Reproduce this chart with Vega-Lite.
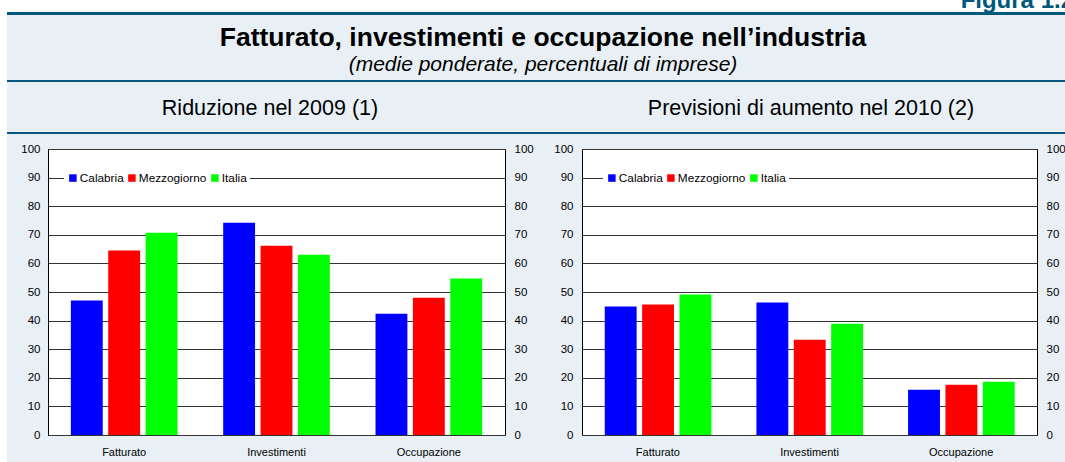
{
  "$schema": "https://vega.github.io/schema/vega-lite/v6.json",
  "background": "#e8f0f6",
  "padding": 0,
  "config": {
    "font": "Liberation Sans",
    "view": {"stroke": null},
    "axis": {"labelFont": "Liberation Sans", "labelColor": "black", "labelFontSize": 11.5}
  },
  "datasets": {
    "none": [],
    "fig": [{"t": "Figura 1.2"}],
    "rid": [
      {"cat": "Fatturato", "serie": "Calabria", "v": 47.0},
      {"cat": "Fatturato", "serie": "Mezzogiorno", "v": 64.5},
      {"cat": "Fatturato", "serie": "Italia", "v": 70.7},
      {"cat": "Investimenti", "serie": "Calabria", "v": 74.2},
      {"cat": "Investimenti", "serie": "Mezzogiorno", "v": 66.2},
      {"cat": "Investimenti", "serie": "Italia", "v": 63.0},
      {"cat": "Occupazione", "serie": "Calabria", "v": 42.4},
      {"cat": "Occupazione", "serie": "Mezzogiorno", "v": 48.0},
      {"cat": "Occupazione", "serie": "Italia", "v": 54.7}
    ],
    "prev": [
      {"cat": "Fatturato", "serie": "Calabria", "v": 44.9},
      {"cat": "Fatturato", "serie": "Mezzogiorno", "v": 45.6},
      {"cat": "Fatturato", "serie": "Italia", "v": 49.1},
      {"cat": "Investimenti", "serie": "Calabria", "v": 46.3},
      {"cat": "Investimenti", "serie": "Mezzogiorno", "v": 33.3},
      {"cat": "Investimenti", "serie": "Italia", "v": 38.9},
      {"cat": "Occupazione", "serie": "Calabria", "v": 15.8},
      {"cat": "Occupazione", "serie": "Mezzogiorno", "v": 17.6},
      {"cat": "Occupazione", "serie": "Italia", "v": 18.6}
    ]
  },
  "spacing": 0,
  "hconcat": [
    {
      "width": 7, "height": 462,
      "view": {"fill": "white", "stroke": null},
      "data": {"name": "none"}, "mark": "point", "encoding": {}
    },
    {
      "spacing": 0,
      "vconcat": [
        {
          "width": 1058, "height": 12,
          "view": {"fill": "white", "stroke": null},
          "data": {"name": "fig"},
          "mark": {"type": "text", "align": "right", "baseline": "alphabetic", "dx": 9, "dy": -4, "fontSize": 24, "fontWeight": "bold", "color": "#00587c", "clip": true},
          "encoding": {"text": {"field": "t"}, "x": {"value": "width"}, "y": {"value": "height"}}
        },
        {
          "width": 1058, "height": 3,
          "view": {"fill": "#00587c", "stroke": null},
          "data": {"name": "none"}, "mark": "point", "encoding": {}
        },
        {
          "width": 1058, "height": 9,
          "view": {"stroke": null},
          "data": {"name": "none"}, "mark": "point", "encoding": {}
        },
        {
          "width": 1058, "height": 2,
          "view": {"fill": "#00587c", "stroke": null},
          "title": {
            "text": "Fatturato, investimenti e occupazione nell’industria",
            "subtitle": "(medie ponderate, percentuali di imprese)",
            "anchor": "middle", "dx": 7,
            "fontSize": 26.5, "fontWeight": "bold", "color": "black",
            "subtitleFontSize": 21, "subtitleFontStyle": "italic", "subtitleColor": "black",
            "subtitlePadding": 2.5, "offset": 5.5
          },
          "data": {"name": "none"}, "mark": "point", "encoding": {}
        },
        {
          "width": 1058, "height": 15.5,
          "view": {"stroke": null},
          "data": {"name": "none"}, "mark": "point", "encoding": {}
        },
        {
          "spacing": 0,
          "hconcat": [
            {
              "width": 526, "height": 2,
              "view": {"fill": "#00587c", "stroke": null},
              "title": {"text": "Riduzione nel 2009 (1)", "anchor": "middle", "fontSize": 21.5, "fontWeight": "normal", "color": "black", "offset": 12.5},
              "data": {"name": "none"}, "mark": "point", "encoding": {}
            },
            {
              "width": 532, "height": 2,
              "view": {"fill": "#00587c", "stroke": null},
              "title": {"text": "Previsioni di aumento nel 2010 (2)", "anchor": "middle", "dx": 12, "fontSize": 21.5, "fontWeight": "normal", "color": "black", "offset": 12.5},
              "data": {"name": "none"}, "mark": "point", "encoding": {}
            }
          ]
        },
        {
          "width": 1058, "height": 8,
          "view": {"stroke": null},
          "data": {"name": "none"}, "mark": "point", "encoding": {}
        },
        {
          "spacing": 0,
          "resolve": {"scale": {"color": "independent"}, "legend": {"color": "independent"}},
          "hconcat": [
            {
              "width": 1, "height": 1,
              "view": {"stroke": null},
              "data": {"name": "none"}, "mark": "point", "encoding": {}
            },
            {
              "width": 457, "height": 286,
              "data": {"name": "rid"},
              "view": {"fill": "white", "stroke": "black", "strokeWidth": 1},
              "encoding": {
                "x": {"field": "cat", "type": "nominal", "sort": ["Fatturato", "Investimenti", "Occupazione"],
                      "scale": {"paddingInner": 0.3, "paddingOuter": 0.15},
                      "axis": {"title": null, "labelAngle": 0, "ticks": false, "domain": false, "labelPadding": 11, "labelFontSize": 11}},
                "xOffset": {"field": "serie", "type": "nominal", "sort": ["Calabria", "Mezzogiorno", "Italia"],
                            "scale": {"paddingInner": 0.147, "paddingOuter": 0}}
              },
              "layer": [
                {
                  "mark": {"type": "bar"},
                  "encoding": {
                    "y": {"field": "v", "type": "quantitative", "scale": {"domain": [0, 100], "nice": false},
                          "axis": {"orient": "left", "title": null, "values": [0, 10, 20, 30, 40, 50, 60, 70, 80, 90, 100], "ticks": false, "domain": false, "labelPadding": 8, "grid": true, "gridColor": "#333", "gridOpacity": 1, "minExtent": 39}},
                    "color": {"field": "serie", "type": "nominal", "sort": ["Calabria", "Mezzogiorno", "Italia"],
                              "scale": {"domain": ["Calabria", "Mezzogiorno", "Italia"], "range": ["#0000ff", "#ff0000", "#00ff00"]},
                              "legend": {"title": null, "orient": "none", "legendX": 16, "legendY": 20, "direction": "horizontal", "fillColor": "white", "padding": 3, "symbolType": "square", "symbolSize": 56, "symbolStrokeWidth": 0, "labelFontSize": 11.8, "labelOffset": 1, "columnPadding": 2, "labelColor": "black"}}
                  }
                },
                {
                  "mark": {"type": "bar", "opacity": 0},
                  "encoding": {
                    "y": {"field": "v", "type": "quantitative", "scale": {"domain": [0, 100], "nice": false},
                          "axis": {"orient": "right", "title": null, "values": [0, 10, 20, 30, 40, 50, 60, 70, 80, 90, 100], "ticks": false, "domain": false, "labelPadding": 9, "grid": false, "minExtent": 37}}
                  }
                }
              ],
              "resolve": {"axis": {"y": "independent"}}
            },
            {
              "width": 455, "height": 286,
              "data": {"name": "prev"},
              "view": {"fill": "white", "stroke": "black", "strokeWidth": 1},
              "encoding": {
                "x": {"field": "cat", "type": "nominal", "sort": ["Fatturato", "Investimenti", "Occupazione"],
                      "scale": {"paddingInner": 0.3, "paddingOuter": 0.15},
                      "axis": {"title": null, "labelAngle": 0, "ticks": false, "domain": false, "labelPadding": 11, "labelFontSize": 11}},
                "xOffset": {"field": "serie", "type": "nominal", "sort": ["Calabria", "Mezzogiorno", "Italia"],
                            "scale": {"paddingInner": 0.147, "paddingOuter": 0}}
              },
              "layer": [
                {
                  "mark": {"type": "bar"},
                  "encoding": {
                    "y": {"field": "v", "type": "quantitative", "scale": {"domain": [0, 100], "nice": false},
                          "axis": {"orient": "left", "title": null, "values": [0, 10, 20, 30, 40, 50, 60, 70, 80, 90, 100], "ticks": false, "domain": false, "labelPadding": 9, "grid": true, "gridColor": "#333", "gridOpacity": 1, "minExtent": 38}},
                    "color": {"field": "serie", "type": "nominal", "sort": ["Calabria", "Mezzogiorno", "Italia"],
                              "scale": {"domain": ["Calabria", "Mezzogiorno", "Italia"], "range": ["#0000ff", "#ff0000", "#00ff00"]},
                              "legend": {"title": null, "orient": "none", "legendX": 21, "legendY": 20, "direction": "horizontal", "fillColor": "white", "padding": 3, "symbolType": "square", "symbolSize": 56, "symbolStrokeWidth": 0, "labelFontSize": 11.8, "labelOffset": 1, "columnPadding": 2, "labelColor": "black"}}
                  }
                },
                {
                  "mark": {"type": "bar", "opacity": 0},
                  "encoding": {
                    "y": {"field": "v", "type": "quantitative", "scale": {"domain": [0, 100], "nice": false},
                          "axis": {"orient": "right", "title": null, "values": [0, 10, 20, 30, 40, 50, 60, 70, 80, 90, 100], "ticks": false, "domain": false, "labelPadding": 9, "grid": false}}
                  }
                }
              ],
              "resolve": {"axis": {"y": "independent"}}
            }
          ]
        }
      ]
    }
  ]
}
